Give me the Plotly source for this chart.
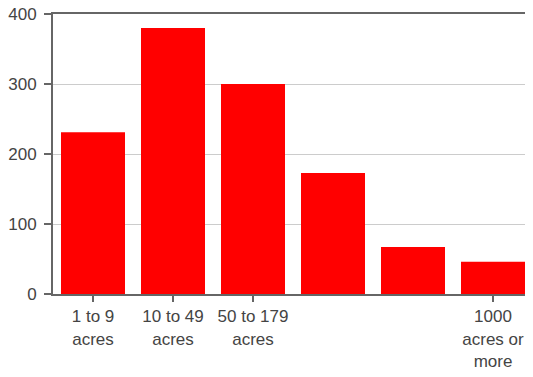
import plotly.graph_objects as go

categories = ["1 to 9 acres", "10 to 49 acres", "50 to 179 acres",
              "180 to 499 acres", "500 to 999 acres", "1000 acres or more"]
values = [231, 380, 300, 173, 67, 46]
shown_ticks = ["1 to 9 acres", "10 to 49 acres", "50 to 179 acres", "1000 acres or more"]
shown_text = ["1 to 9<br>acres", "10 to 49<br>acres", "50 to 179<br>acres", "1000<br>acres or<br>more"]
y_ticks = [0, 100, 200, 300, 400]

fig = go.Figure(go.Bar(
    x=categories, y=values,
    marker=dict(color="#ff0000", line=dict(width=0)),
))

font = dict(family="Liberation Sans, Arial, sans-serif", size=17, color="#444444")

fig.update_layout(
    width=525, height=369,
    margin=dict(l=45, r=0, t=6, b=83, autoexpand=False),
    paper_bgcolor="white", plot_bgcolor="white",
    bargap=0.2, showlegend=False,
    font=font,
)
fig.update_xaxes(
    type="category", automargin=False,
    tickmode="array", tickvals=shown_ticks, ticktext=shown_text,
    ticks="outside", ticklen=6, tickwidth=1.5, tickcolor="#666666",
    showline=True, linecolor="#666666", linewidth=2, mirror=True,
    showgrid=False, tickfont=font, ticklabeloverflow="allow",
)
fig.update_yaxes(
    range=[0, 400], tickvals=y_ticks, automargin=False,
    ticks="outside", ticklen=7, tickwidth=1.5, tickcolor="#666666",
    showline=True, linecolor="#666666", linewidth=2,
    showgrid=True, gridcolor="#cccccc", gridwidth=1,
    zeroline=False, tickfont=font, ticklabelstandoff=4,
    ticklabeloverflow="allow",
)

fig.write_html("out.html")
